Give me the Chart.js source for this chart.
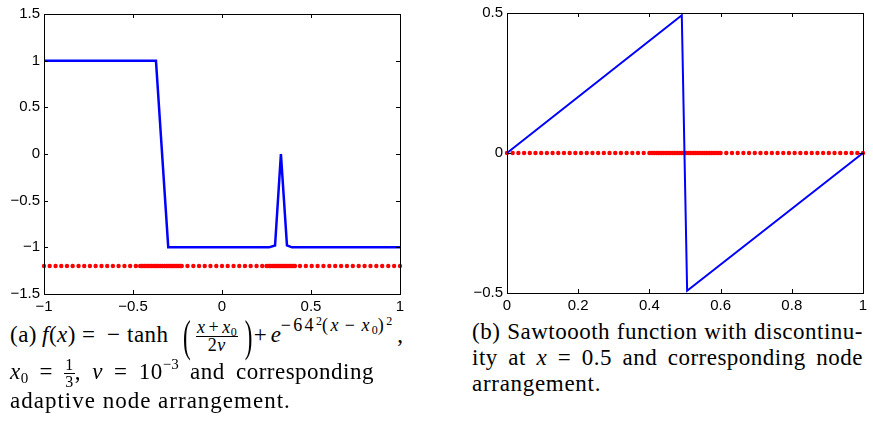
<!DOCTYPE html>
<html>
<head>
<meta charset="utf-8">
<script src="https://cdn.jsdelivr.net/npm/chart.js@4.4.0/dist/chart.umd.min.js"></script>
<style>
  html, body { margin: 0; padding: 0; background: #fff; }
  body { width: 873px; height: 425px; position: relative; overflow: hidden; }
  canvas { position: absolute; top: 0; }
  #graficoA { left: 0; }
  #graficoB { left: 440px; }
  .cap { position: absolute; font-family: "Liberation Serif", serif; font-size: 23px; line-height: 26px;
         white-space: nowrap; color: #000; letter-spacing: 0.5px; }
  .just { text-align: justify; text-align-last: justify; }
  .tk { display: inline-block; }
  .cap sub { font-size: 15px; line-height: 0; letter-spacing: 0; vertical-align: -4px; }
  .cap sup { font-size: 15px; line-height: 0; letter-spacing: 0; vertical-align: 10px; }
  .expo { display: inline-block; font-size: 18px; line-height: 0; vertical-align: 11px; letter-spacing: 2.4px; margin-right: 5px; }
  .expo sup { font-size: 12px; vertical-align: 6px; }
  .expo sub { font-size: 12px; vertical-align: -3px; }
  .expo .op { margin: 0 4px; }
  .frac { display: inline-flex; flex-direction: column; align-items: center; vertical-align: middle;
          font-size: 18px; line-height: 17px; letter-spacing: 0.5px; }
  .frac .num { border-bottom: 1px solid #000; padding: 0 1px; }
  .frac .op { margin: 0 3px; }
  .frac sub { font-size: 12px; vertical-align: -3px; }
  .chica { font-size: 16px; line-height: 16px; }
  .bigp { display: inline-block; transform: scaleY(1.95); vertical-align: middle; }
</style>
</head>
<body>
<canvas id="graficoA" width="410" height="314"></canvas>
<canvas id="graficoB" width="433" height="313"></canvas>

<div class="cap" style="left:10px; top:319px;"><span class="tk" style="width:32px">(a)</span><span class="tk" style="width:40px"><i>f</i>(<i>x</i>)</span><span class="tk" style="width:25px">=</span><span class="tk" style="width:20px">−</span><span class="tk" style="width:56px">tanh</span><span class="bigp" style="width:8px">(</span><span class="frac" style="margin:0 7px 0 5px"><span class="num"><i>x</i><span class="op">+</span><i>x</i><sub>0</sub></span><span class="den">2<i>ν</i></span></span><span class="bigp" style="width:9px">)</span><span class="tk" style="width:17px">+</span><span class="tk" style="width:10px"><i>e</i></span><span class="expo">−64<sup>2</sup>(<i>x</i><span class="op">−</span><i>x</i><sub>0</sub>)<sup>2</sup></span>,</div>
<div class="cap just" style="left:10px; top:357px; width:364px;"><i>x</i><sub>0</sub> = <span class="frac chica"><span class="num">1</span><span class="den">3</span></span>, <i>ν</i> = 10<sup>−3</sup> and corresponding</div>
<div class="cap" style="left:10px; top:388px; letter-spacing:1px;">adaptive node arrangement.</div>

<div class="cap just" style="left:472px; top:319px; width:391px;">(b) Sawtoooth function with discontinu-</div>
<div class="cap just" style="left:472px; top:345px; width:391px;">ity at <i>x</i> = 0.5 and corresponding node</div>
<div class="cap" style="left:472px; top:371px; letter-spacing:0.7px;">arrangement.</div>

<script>
// (a) funcion con salto en -x0 y pico en x0
const funcionAX = [-1, -0.371, -0.302, 0.264, 0.298, 0.331, 0.365, 0.393, 1];
const funcionAY = [1, 1, -1, -1, -0.98, 0, -0.98, -1, -1];
const nodosAY = -1.2;
const nodosAX = [
  -1, -0.968, -0.935, -0.903, -0.871, -0.839, -0.806, -0.774, -0.742, -0.710, -0.677, -0.645,
  -0.613, -0.581, -0.548, -0.516, -0.484,
  -0.46, -0.452, -0.444, -0.436, -0.428, -0.42, -0.412, -0.404, -0.396, -0.388, -0.38, -0.372,
  -0.364, -0.356, -0.346, -0.334, -0.322, -0.312, -0.304, -0.296, -0.288, -0.28, -0.272, -0.264,
  -0.256, -0.248, -0.24, -0.232, -0.226,
  -0.194, -0.161, -0.129, -0.097, -0.065, -0.032, 0, 0.032, 0.065, 0.097, 0.129, 0.161, 0.194, 0.226,
  0.25, 0.258, 0.266, 0.274, 0.282, 0.29, 0.298, 0.306, 0.314, 0.322, 0.33, 0.338, 0.346, 0.354,
  0.362, 0.37, 0.378, 0.386, 0.394, 0.402, 0.41,
  0.438, 0.471, 0.504, 0.537, 0.570, 0.603, 0.636, 0.669, 0.702, 0.735, 0.768, 0.801, 0.834,
  0.867, 0.900, 0.934, 0.967, 1
];
const ticksAX = [-1, -0.5, 0, 0.5, 1];
const ticksAY = [-1.5, -1, -0.5, 0, 0.5, 1, 1.5];

// (b) diente de sierra
const sierraX = [0, 0.491, 0.506, 1];
const sierraY = [0, 0.492, -0.492, 0];
const nodosBY = 0;
const nodosBX = [
  0, 0.016, 0.032, 0.048, 0.064, 0.08, 0.096, 0.112, 0.128, 0.144, 0.16, 0.176, 0.192, 0.208,
  0.224, 0.24, 0.256, 0.272, 0.288, 0.304, 0.32, 0.336, 0.352, 0.368, 0.384,
  0.4, 0.405, 0.41, 0.415, 0.42, 0.425, 0.43, 0.435, 0.44, 0.445, 0.45, 0.455, 0.46, 0.465, 0.47,
  0.475, 0.48, 0.485, 0.49, 0.495, 0.5, 0.505, 0.51, 0.515, 0.52, 0.525, 0.53, 0.535, 0.54, 0.545,
  0.55, 0.555, 0.56, 0.565, 0.57, 0.575, 0.58, 0.585, 0.59, 0.595, 0.6,
  0.616, 0.632, 0.648, 0.664, 0.68, 0.696, 0.712, 0.728, 0.744, 0.76, 0.776, 0.792, 0.808, 0.824,
  0.84, 0.856, 0.872, 0.888, 0.904, 0.92, 0.936, 0.952, 0.968, 0.984, 1
];
const ticksBX = [0, 0.2, 0.4, 0.6, 0.8, 1];
const ticksBY = [-0.5, 0, 0.5];

const LARGO_TICK = 4;

// caja estilo matlab con ticks hacia adentro en los cuatro lados
const marcoEjes = {
  id: 'marcoEjes',
  afterDraw(chart) {
    const { ctx, chartArea: a } = chart;
    const x = chart.scales.x, y = chart.scales.y;
    ctx.save();
    ctx.strokeStyle = '#000';
    ctx.lineWidth = 1;
    ctx.beginPath();
    x.ticks.forEach(t => {
      const px = Math.round(x.getPixelForValue(t.value)) + 0.5;
      ctx.moveTo(px, a.bottom); ctx.lineTo(px, a.bottom - LARGO_TICK);
      ctx.moveTo(px, a.top); ctx.lineTo(px, a.top + LARGO_TICK);
    });
    y.ticks.forEach(t => {
      const py = Math.round(y.getPixelForValue(t.value)) + 0.5;
      ctx.moveTo(a.left, py); ctx.lineTo(a.left + LARGO_TICK, py);
      ctx.moveTo(a.right, py); ctx.lineTo(a.right - LARGO_TICK, py);
    });
    ctx.stroke();
    ctx.strokeRect(Math.round(a.left) + 0.5, Math.round(a.top) + 0.5,
                   Math.round(a.right - a.left), Math.round(a.bottom - a.top));
    ctx.restore();
  }
};

const etiqueta = v => String(v).replace('-', '\u2212');

function crearGrafico(id, cfg) {
  const fuenteTicks = { family: '"Liberation Sans", Arial, sans-serif', size: 15 };
  new Chart(document.getElementById(id), {
    type: 'scatter',
    data: {
      datasets: [
        {
          data: cfg.lineaX.map((v, i) => ({ x: v, y: cfg.lineaY[i] })),
          showLine: true,
          borderColor: '#0000ff',
          borderWidth: cfg.grosor,
          pointRadius: 0,
          fill: false,
          clip: false
        },
        {
          data: cfg.nodosX.map(v => ({ x: v, y: cfg.nodosY })),
          showLine: false,
          pointRadius: 2.2,
          pointBorderWidth: 0,
          backgroundColor: '#ff0000',
          clip: false
        }
      ]
    },
    options: {
      responsive: false,
      animation: false,
      events: [],
      layout: { padding: cfg.padding },
      plugins: { legend: { display: false }, tooltip: { enabled: false } },
      scales: {
        x: {
          type: 'linear',
          min: cfg.ticksX[0],
          max: cfg.ticksX[cfg.ticksX.length - 1],
          afterBuildTicks: s => { s.ticks = cfg.ticksX.map(v => ({ value: v })); },
          afterFit: s => { s.height = 20; },
          grid: { display: false, drawTicks: false },
          border: { display: false },
          ticks: { callback: etiqueta, color: '#000', font: fuenteTicks, padding: 4, maxRotation: 0 }
        },
        y: {
          type: 'linear',
          min: cfg.ticksY[0],
          max: cfg.ticksY[cfg.ticksY.length - 1],
          afterBuildTicks: s => { s.ticks = cfg.ticksY.map(v => ({ value: v })); },
          afterFit: s => { s.width = cfg.anchoY; },
          grid: { display: false, drawTicks: false },
          border: { display: false },
          ticks: { callback: etiqueta, color: '#000', font: fuenteTicks, padding: 4 }
        }
      }
    },
    plugins: [marcoEjes]
  });
}

crearGrafico('graficoA', {
  lineaX: funcionAX, lineaY: funcionAY, nodosX: nodosAX, nodosY: nodosAY,
  ticksX: ticksAX, ticksY: ticksAY, grosor: 2.5, anchoY: 44,
  padding: { top: 14, right: 10, left: 0, bottom: 0 }
});

crearGrafico('graficoB', {
  lineaX: sierraX, lineaY: sierraY, nodosX: nodosBX, nodosY: nodosBY,
  ticksX: ticksBX, ticksY: ticksBY, grosor: 2, anchoY: 67,
  padding: { top: 11, right: 10, left: 0, bottom: 0 }
});
</script>
</body>
</html>
